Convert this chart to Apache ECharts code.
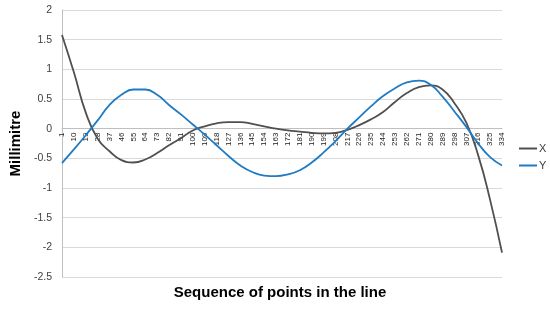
<!DOCTYPE html>
<html>
<head>
<meta charset="utf-8">
<script src="https://cdn.jsdelivr.net/npm/echarts@6/dist/echarts.min.js"></script>
<style>
  html, body { margin: 0; padding: 0; background: #fff; }
  #main { width: 550px; height: 309px; }
</style>
</head>
<body>
<div id="main"></div>
<script>
// point numbers along the line (every 9th point)
const points = ['1','10','19','28','37','46','55','64','73','82','91','100','109','118','127','136','145','154','163','172','181','190','199','208','217','226','235','244','253','262','271','280','289','298','307','316','325','334'];
const xValues = [1.58, 0.95, 0.27, -0.17, -0.38, -0.53, -0.57, -0.52, -0.41, -0.28, -0.16, -0.03, 0.04, 0.09, 0.11, 0.11, 0.08, 0.04, 0.0, -0.03, -0.05, -0.07, -0.08, -0.07, -0.02, 0.06, 0.16, 0.28, 0.45, 0.6, 0.7, 0.73, 0.66, 0.43, 0.1, -0.45, -1.2, -2.09];
const yValues = [-0.58, -0.35, -0.11, 0.14, 0.4, 0.57, 0.66, 0.66, 0.57, 0.4, 0.24, 0.07, -0.1, -0.28, -0.46, -0.62, -0.73, -0.79, -0.8, -0.77, -0.7, -0.57, -0.4, -0.21, 0.0, 0.19, 0.38, 0.55, 0.68, 0.78, 0.81, 0.74, 0.54, 0.29, 0.03, -0.25, -0.48, -0.62];

const myChart = echarts.init(document.getElementById('main'));
const font = 'Liberation Sans, Arial, sans-serif';
const yMin = -2.5, yMax = 2;
const gridTop = 10, gridBottom = 32, chartH = 309;
// move the category axis up to the zero line
const plotH = chartH - gridTop - gridBottom;
const zeroOffset = -plotH * (0 - yMin) / (yMax - yMin);

const option = {
  animation: false,
  textStyle: { fontFamily: font },
  grid: { left: 57, right: 48, top: gridTop, bottom: gridBottom },
  legend: {
    data: ['X', 'Y'],
    orient: 'vertical',
    left: 514,
    top: 138,
    icon: 'rect',
    itemWidth: 18,
    itemHeight: 2,
    itemGap: 6,
    textStyle: { fontSize: 11, color: '#404040', padding: [0, 0, 0, -3] },
  },
  graphic: [
    {
      type: 'text',
      x: 280,
      y: 293,
      style: {
        text: 'Sequence of points in the line',
        font: 'bold 15px ' + font,
        fill: '#000',
        textAlign: 'center',
        textVerticalAlign: 'middle',
      },
    },
  ],
  xAxis: {
    type: 'category',
    data: points,
    boundaryGap: false,
    offset: zeroOffset,
    axisLine: { onZero: false, lineStyle: { color: '#bfbfbf' } },
    axisTick: { show: false },
    axisLabel: {
      interval: 0,
      rotate: 90,
      fontSize: 8,
      color: '#222',
      margin: 4,
    },
  },
  yAxis: {
    type: 'value',
    min: yMin,
    max: yMax,
    interval: 0.5,
    name: 'Millimitre',
    nameLocation: 'middle',
    nameGap: 34,
    nameTextStyle: { fontSize: 15, fontWeight: 'bold', color: '#000' },
    axisLine: { show: true, lineStyle: { color: '#bfbfbf' } },
    axisTick: { show: false },
    axisLabel: { fontSize: 10.5, color: '#404040', margin: 10 },
    splitLine: { lineStyle: { color: '#d9d9d9' } },
  },
  series: [
    {
      name: 'X',
      type: 'line',
      data: xValues,
      smooth: 0.5,
      symbol: 'none',
      itemStyle: { color: '#505050' },
      lineStyle: { color: '#505050', width: 1.8 },
    },
    {
      name: 'Y',
      type: 'line',
      data: yValues,
      smooth: 0.5,
      symbol: 'none',
      itemStyle: { color: '#1f7bc4' },
      lineStyle: { color: '#1f7bc4', width: 1.8 },
    },
  ],
};
myChart.setOption(option);
</script>
</body>
</html>
